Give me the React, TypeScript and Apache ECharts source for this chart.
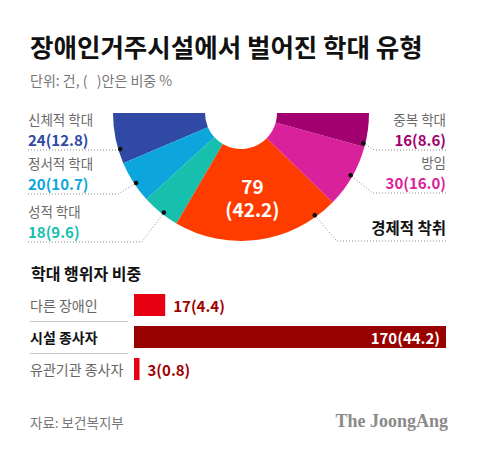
import { useEffect, useRef } from 'react'
import * as echarts from 'echarts'

// 학대 유형 (건, 비중 %)
const typeNames = ['신체적 학대', '정서적 학대', '성적 학대', '경제적 착취', '방임', '중복 학대']
const typeCounts = [24, 20, 18, 79, 30, 16]
const typeShares = [12.8, 10.7, 9.6, 42.2, 16.0, 8.6]
const typeColors = ['#2f49a5', '#0ca6dc', '#16c0ad', '#ff3c00', '#d8219a', '#a1006e']

// 학대 행위자
const actorNames = ['다른 장애인', '시설 종사자', '유관기관 종사자']
const actorCounts = [17, 170, 3]
const actorShares = [4.4, 44.2, 0.8]

const FONT = '"Noto Sans CJK KR", "Noto Sans", sans-serif'
const CX = 241
const CY = 113
const R0 = 36
const R1 = 128
const RDOT = 126

// 라벨 배치: 좌/우, 밑줄 y, 조각 안 점 위치(0~1)
const spots = [
  { side: 'left', lineY: 150, dotAt: 0.72 },
  { side: 'left', lineY: 194, dotAt: 0.55 },
  { side: 'left', lineY: 242, dotAt: 0.57 },
  { side: 'right', lineY: 241, dotAt: 0.87 },
  { side: 'right', lineY: 193, dotAt: 0.51 },
  { side: 'right', lineY: 150, dotAt: 0.1 },
]

export default function App() {
  const ref = useRef<HTMLDivElement>(null)

  useEffect(() => {
    if (!ref.current) return
    const chart = echarts.init(ref.current, undefined, { renderer: 'svg' })

    const total = typeCounts.reduce((a, b) => a + b, 0)
    const maxType = typeCounts.indexOf(Math.max(...typeCounts))
    const maxActor = actorCounts.indexOf(Math.max(...actorCounts))

    // ── 파이 바깥 라벨 + 점선 ─────────────────────────
    const labelEls: any[] = []
    let acc = 0
    typeCounts.forEach((v, i) => {
      const a0 = (acc / total) * 180
      acc += v
      const a1 = (acc / total) * 180
      const s = spots[i]
      const ang = ((a0 + (a1 - a0) * s.dotAt) * Math.PI) / 180
      const px = CX - RDOT * Math.cos(ang)
      const py = CY + RDOT * Math.sin(ang)
      const left = s.side === 'left'
      const edge = left ? 28 : 446
      const bend = Math.min(22, Math.abs(s.lineY - py) * 1.6)
      const bx = left ? px - bend : px + bend
      labelEls.push({
        type: 'polyline',
        z: 10,
        shape: { points: [[edge, s.lineY], [bx, s.lineY], [px, py]] },
        style: { stroke: '#8a8a8a', lineWidth: 1, lineDash: [1, 2], fill: 'none' },
      })
      labelEls.push({
        type: 'circle',
        z: 11,
        shape: { cx: px, cy: py, r: 2.3 },
        style: { fill: '#111' },
      })
      const align = left ? 'left' : 'right'
      if (i === maxType) {
        labelEls.push({
          type: 'text', x: edge, y: s.lineY - 14, z: 11,
          style: { text: typeNames[i], fill: '#111', fontSize: 15.5, fontWeight: 'bold', fontFamily: FONT, align, verticalAlign: 'middle' },
        })
      } else {
        labelEls.push({
          type: 'text', x: edge, y: s.lineY - 31, z: 11,
          style: { text: typeNames[i], fill: '#6a6a6a', fontSize: 13.5, fontFamily: FONT, align, verticalAlign: 'middle' },
        })
        labelEls.push({
          type: 'text', x: edge, y: s.lineY - 11, z: 11,
          style: {
            text: `${typeCounts[i]}(${typeShares[i].toFixed(1)})`,
            fill: typeColors[i], fontSize: 15, fontWeight: 'bold', fontFamily: FONT, align, verticalAlign: 'middle',
          },
        })
      }
    })

    const option: any = {
      animation: false,
      backgroundColor: '#fff',
      textStyle: { fontFamily: FONT },
      graphic: [
        {
          type: 'text', x: 30, y: 45,
          style: { text: '장애인거주시설에서 벌어진 학대 유형', fill: '#111', fontSize: 25.5, fontWeight: 'bold', fontFamily: FONT, verticalAlign: 'middle' },
        },
        {
          type: 'text', x: 30, y: 80,
          style: { text: '단위: 건, (   )안은 비중 %', fill: '#777', fontSize: 14, fontFamily: FONT, verticalAlign: 'middle' },
        },
        {
          type: 'text', x: 31, y: 273,
          style: { text: '학대 행위자 비중', fill: '#111', fontSize: 16, fontWeight: 'bold', fontFamily: FONT, verticalAlign: 'middle' },
        },
        {
          type: 'text', x: 30, y: 422,
          style: { text: '자료: 보건복지부', fill: '#777', fontSize: 13.5, fontFamily: FONT, verticalAlign: 'middle' },
        },
        {
          type: 'text', x: 448, y: 421,
          style: { text: 'The JoongAng', fill: '#8a8a8a', fontSize: 18, fontWeight: 'bold', fontFamily: '"Liberation Serif", "DejaVu Serif", serif', align: 'right', verticalAlign: 'middle' },
        },
        ...labelEls,
      ],
      grid: [
        { left: 134, top: 289, width: 312, height: 96 },
        { left: 30, top: 289, width: 98, height: 96 },
      ],
      xAxis: [
        { gridIndex: 0, type: 'value', min: 0, max: 170, show: false },
        { gridIndex: 1, type: 'value', min: 0, max: 1, show: false },
      ],
      yAxis: [
        { gridIndex: 0, type: 'category', data: actorNames, inverse: true, show: false },
        {
          gridIndex: 1,
          type: 'category',
          data: actorNames,
          inverse: true,
          axisLine: { show: false },
          axisTick: { show: false },
          axisLabel: {
            inside: true,
            margin: 0,
            align: 'left',
            formatter: (v: string) => (v === actorNames[maxActor] ? `{b|${v}}` : `{n|${v}}`),
            rich: {
              b: { fontSize: 14, fontWeight: 'bold', color: '#111', fontFamily: FONT },
              n: { fontSize: 14, color: '#666', fontFamily: FONT },
            },
          },
          splitLine: {
            show: true,
            showMinLine: false,
            showMaxLine: false,
            lineStyle: { color: '#c8c8c8', width: 1 },
          },
        },
      ],
      series: [
        {
          type: 'pie',
          center: [CX, CY],
          radius: [R0, R1],
          startAngle: 180,
          clockwise: false,
          silent: true,
          emphasis: { disabled: true },
          label: { show: false },
          labelLine: { show: false },
          data: [
            ...typeNames.map((n, i) => ({
              name: n,
              value: typeCounts[i],
              itemStyle: { color: typeColors[i] },
              label: i === maxType
                ? {
                    show: true,
                    position: 'inside',
                    formatter: `${typeCounts[i]}\n(${typeShares[i].toFixed(1)})`,
                    color: '#fff',
                    fontSize: 19,
                    fontWeight: 'bold',
                    lineHeight: 23,
                    fontFamily: FONT,
                  }
                : { show: false },
            })),
            // 위쪽 절반은 비움
            { name: '', value: total, itemStyle: { color: 'none' }, label: { show: false } },
          ],
        },
        {
          type: 'bar',
          xAxisIndex: 0,
          yAxisIndex: 0,
          barWidth: 22,
          silent: true,
          data: actorCounts.map((v, i) => {
            const big = i === maxActor
            return {
              value: v,
              itemStyle: { color: big ? '#990000' : '#e60012' },
              label: {
                show: true,
                position: big ? 'insideRight' : 'right',
                distance: big ? 6 : 8,
                formatter: `${v}(${actorShares[i].toFixed(1)})`,
                color: big ? '#fff' : '#a00000',
                fontSize: 15,
                fontWeight: 'bold',
                fontFamily: FONT,
              },
            }
          }),
        },
      ],
    }

    chart.setOption(option)
    return () => chart.dispose()
  }, [])

  return (
    <div
      ref={ref}
      style={{ position: 'absolute', left: 0, top: 0, width: 480, height: 456 }}
    />
  )
}
